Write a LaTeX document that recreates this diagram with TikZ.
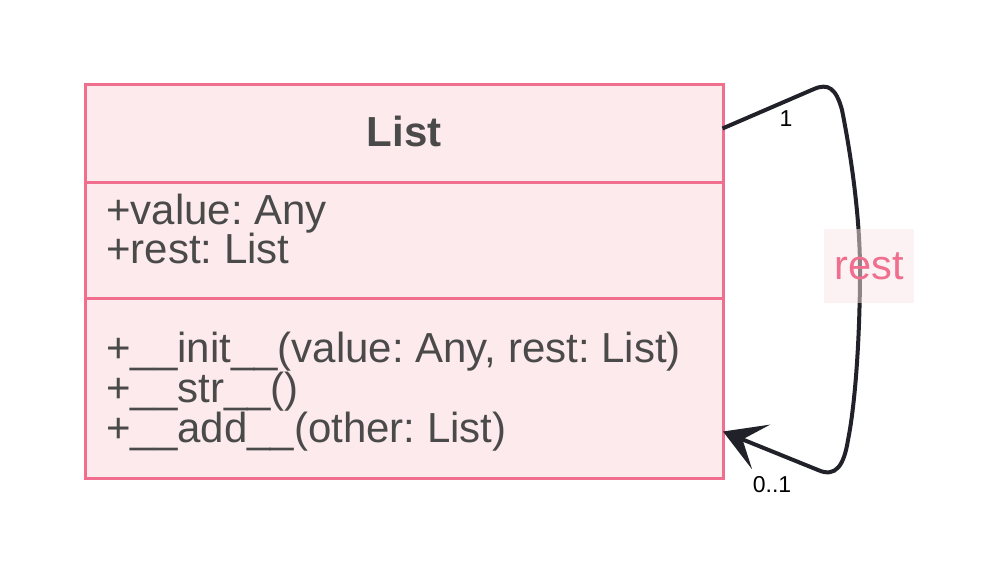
\documentclass[tikz,border=0pt]{standalone}
\usepackage{fontspec}
\setmainfont{Liberation Sans}
\usetikzlibrary{arrows.meta}
\definecolor{pinkline}{RGB}{240,110,142}
\definecolor{pinkfill}{RGB}{253,234,237}
\definecolor{txt}{RGB}{74,74,74}
\definecolor{edge}{RGB}{33,34,41}
\definecolor{lblbg}{RGB}{251,230,232}
\tikzset{
  part/.style={draw=pinkline, fill=pinkfill, line width=3pt, anchor=north west, minimum width=638pt, inner sep=0pt},
  member/.style={anchor=base west, inner sep=0pt, text=txt, font=\fontsize{42}{44}\selectfont\frenchspacing},
  title/.style={anchor=base, inner sep=0pt, text=txt, font=\fontsize{42}{44}\selectfont\bfseries},
  mult/.style={inner sep=0pt, text=black, font=\fontsize{23}{25}\selectfont},
  assoc/.style={draw=edge, line width=4pt, -{Stealth[length=41pt, width=48pt, inset=20pt]}},
  lbl/.style={fill=lblbg, fill opacity=0.5, text opacity=1, text=pinkline, inner sep=0pt, minimum width=90pt, minimum height=74pt, font=\fontsize{41.5}{44}\selectfont}
}
\begin{document}
\begin{tikzpicture}[x=1pt,y=-1pt]
\useasboundingbox (0,0) rectangle (1000,583);
\node[part, minimum height=98pt] (head) at (84,83) {};
\node[part, minimum height=116pt] (attrs) at (84,181) {};
\node[part, minimum height=180pt] (meths) at (84,297) {};
\node[title] (name) at (404,146) {List};
\node[member] (a1) at (106,224) {+value: Any};
\node[member] (a2) at (106,263) {+rest: List};
\node[member] (m1) at (106,362) {+\_\_init\_\_(value: Any, rest: List)};
\node[member] (m2) at (106,402) {+\_\_str\_\_()};
\node[member] (m3) at (106,442) {+\_\_add\_\_(other: List)};
\coordinate (src) at (722.5,128.5);
\coordinate (dst) at (723,431.5);
\draw[assoc] (src) -- (814,89) .. controls (828,83) and (836,88) .. (842,110)
  .. controls (852,160) and (860,220) .. (860,270)
  .. controls (860,330) and (856,400) .. (848,440)
  .. controls (844,465) and (836,478) .. (818,470) -- (dst);
\node[lbl] (rest) at (869,266) {rest};
\node[mult] (m1lbl) at (786,119) {1};
\node[mult] (m2lbl) at (772,485) {0..1};
\end{tikzpicture}
\end{document}
